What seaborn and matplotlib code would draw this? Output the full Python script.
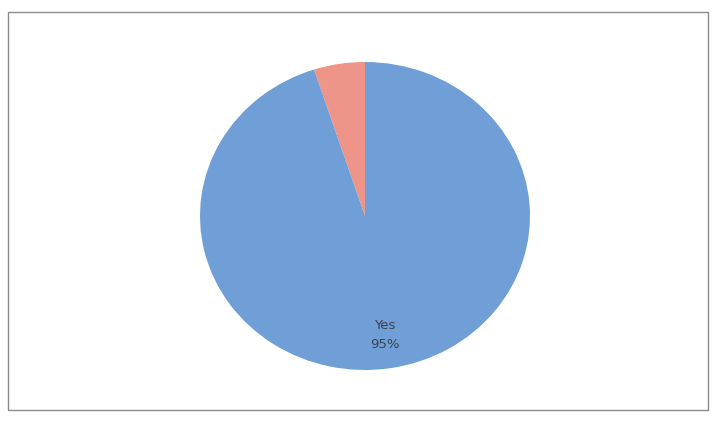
"""
Pie chart: Yes / No share
"""

import matplotlib
matplotlib.use("Agg")
import matplotlib.pyplot as plt
import seaborn as sns
from matplotlib.patches import Rectangle

# data
labels = ["No", "Yes"]
shares = [5, 95]
colors = ["#ee9488", "#6f9fd6"]

sns.set_theme(style="white")

fig = plt.figure(figsize=(7.15, 4.28), dpi=100)
fig.patch.set_facecolor("white")

# chart area frame
fig.patches.append(Rectangle((8 / 715, 18 / 428), 700 / 715, 398 / 428,
                             transform=fig.transFigure, fill=False,
                             edgecolor="#8c8c8c", linewidth=1.0))

# pie sits a bit squashed in the photo, so let the axes set the shape
ax = fig.add_axes([200 / 715, 58 / 428, 330 / 715, 308 / 428])
wedges, texts, autotexts = ax.pie(
    shares,
    labels=labels,
    colors=colors,
    startangle=90,
    autopct="%d%%",
    labeldistance=None,
    pctdistance=0.78,
    wedgeprops=dict(linewidth=0),
    textprops=dict(fontsize=9.5, color="#3a4150"),
)

# label inside slice as "Yes\n95%", nothing for the thin slice
for lab, t in zip(labels, autotexts):
    if lab == "Yes":
        t.set_text(f"{lab}\n{t.get_text()}")
        t.set_linespacing(1.6)
    else:
        t.set_text("")

ax.set_aspect("auto")
ax.set_xlim(-1, 1)
ax.set_ylim(-1, 1)
ax.axis("off")

fig.savefig("out.png", dpi=100)
